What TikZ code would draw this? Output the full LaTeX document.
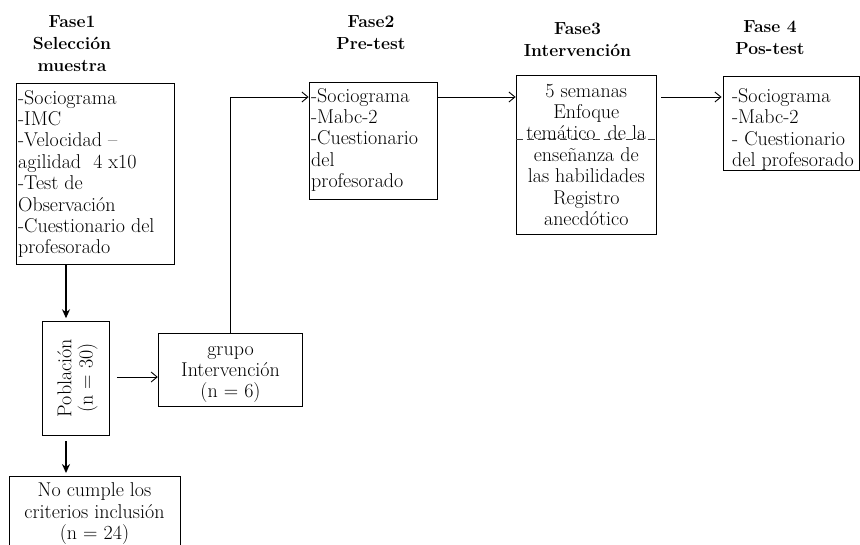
\documentclass[tikz,border=0pt]{standalone}
\usetikzlibrary{arrows.meta}
\begin{document}
\begin{tikzpicture}[x=1pt,y=-1pt,
  box/.style={draw, line width=0.9pt, rectangle, inner sep=0pt},
  txt/.style={inner sep=0pt, font=\fontsize{20}{21.4}\selectfont, anchor=base west},
  ctxt/.style={inner sep=0pt, font=\fontsize{20}{21.4}\selectfont, anchor=base},
  ttl/.style={inner sep=0pt, font=\bfseries\fontsize{17.5}{22.3}\selectfont, anchor=base},
  thickarr/.style={line width=1.4pt, -{Stealth[length=9pt,width=8pt]}},
  openarr/.style={line width=0.9pt, -{Straight Barb[length=6pt,width=10pt,line width=0.9pt]}},
  sepline/.style={line width=0.9pt, dash pattern=on 7pt off 4pt, black!75}
]
\useasboundingbox (0,0) rectangle (860,544);

% titles
\node[ttl] (f1) at (72,27) {\parbox[t]{150pt}{\centering Fase1\\Selección\\muestra}};
\node[ttl] (f2) at (371,27.5) {\parbox[t]{150pt}{\centering Fase2\\Pre-test}};
\node[ttl] (f3) at (577.5,34) {\parbox[t]{150pt}{\centering Fase3\\Intervención}};
\node[ttl] (f4) at (770,32.5) {\parbox[t]{150pt}{\centering Fase 4\\Pos-test}};

% boxes
\node[box, minimum width=158pt, minimum height=181pt] (b1) at (95.2,173.5) {};
\node[box, minimum width=128.5pt, minimum height=117pt] (b2) at (373.3,140.5) {};
\node[box, minimum width=140.5pt, minimum height=158.5pt] (b3) at (586.3,155) {};
\node[box, minimum width=136pt, minimum height=94pt] (b4) at (791.5,123) {};
\node[box, minimum width=67pt, minimum height=114pt] (pob) at (75.8,378.7) {};
\node[box, minimum width=144.5pt, minimum height=72.7pt] (grp) at (230.5,369.7) {};
\node[box, minimum width=171.7pt, minimum height=80pt] (nc) at (94.9,516) {};

% box texts
\node[txt] (t1) at (18,104) {\parbox[t]{200pt}{\raggedright -Sociograma\\-IMC\\-Velocidad --\\agilidad\ \ 4 x10\\-Test de\\Observación\\-Cuestionario del\\profesorado}};
\node[txt] (t2) at (311,102) {\parbox[t]{200pt}{\raggedright -Sociograma\\-Mabc-2\\-Cuestionario\\del\\profesorado}};
\node[ctxt] (t3) at (586.3,97) {\parbox[t]{160pt}{\centering 5 semanas\\Enfoque\\temático\ \ de la\\enseñanza de\\las habilidades\\Registro\\anecdótico}};
\node[txt] (t4) at (732,102.5) {\parbox[t]{200pt}{\raggedright -Sociograma\\-Mabc-2\\- Cuestionario\\del profesorado}};
\node[inner sep=0pt, rotate=90, align=center, font=\fontsize{20}{21.4}\selectfont] (tp) at (77.5,378) {Población\\(n = 30)};
\node[ctxt] (tg) at (230.5,355) {\parbox[t]{160pt}{\centering grupo\\Intervención\\(n = 6)}};
\node[ctxt] (tn) at (94.5,496.7) {\parbox[t]{190pt}{\centering No cumple los\\criterios inclusión\\(n = 24)}};

% helper coordinates
\coordinate (xa) at (66,0);
\coordinate (ya) at (0,377);
\coordinate (yb) at (0,97);
\coordinate (yc) at (0,139.3);

% connectors
\draw[thickarr, shorten >=3pt] (b1.south -| xa) -- (pob.north -| xa);
\draw[thickarr, shorten <=5pt, shorten >=2.5pt] (pob.south -| xa) -- (nc.north -| xa);
\draw[openarr, shorten <=7pt] (pob.east |- ya) -- (grp.west |- ya);
\draw[openarr] (grp.north) |- (b2.west |- yb);
\draw[openarr] (b2.east |- yb) -- (b3.west |- yb);
\draw[openarr, shorten <=4pt, shorten >=1.5pt] (b3.east |- yb) -- (b4.west |- yb);
\draw[sepline] (b3.west |- yc) -- (b3.east |- yc);
\end{tikzpicture}
\end{document}
